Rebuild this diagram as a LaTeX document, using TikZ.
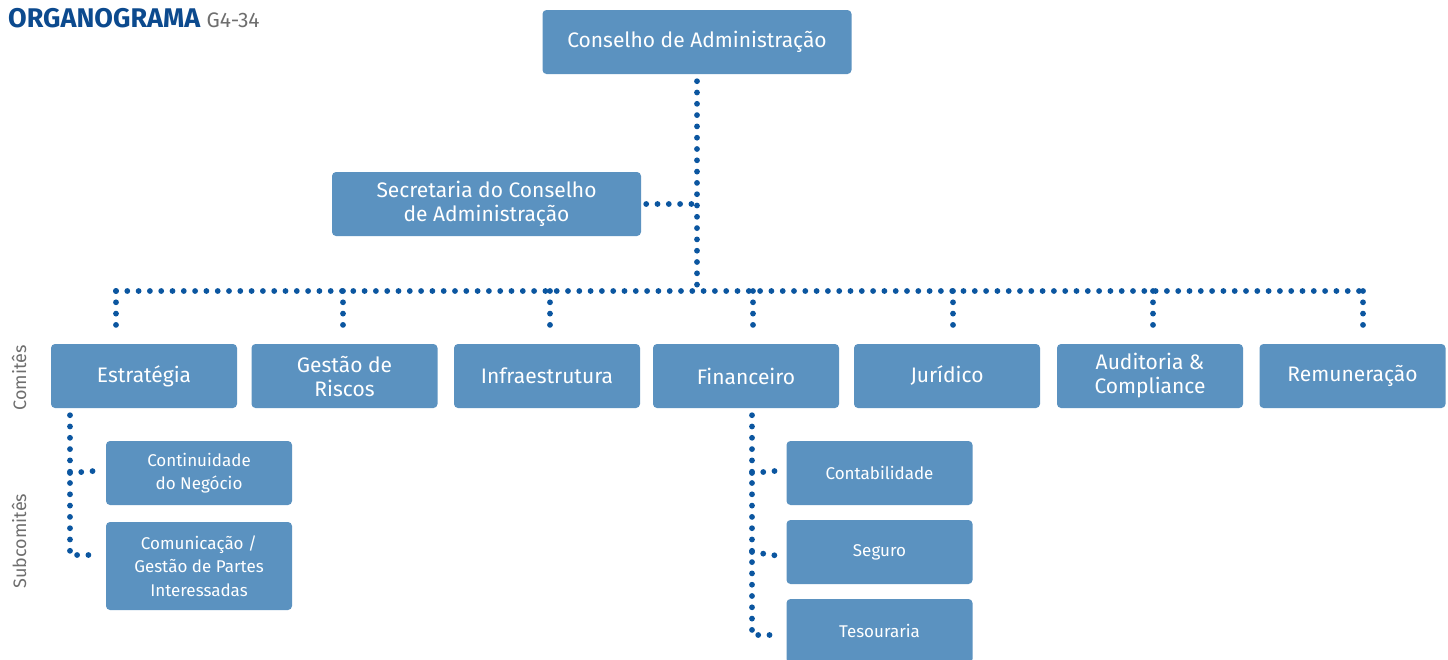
\documentclass[tikz,border=0pt]{standalone}
\usepackage{fontspec}
\setmainfont{Fira Sans}
\definecolor{boxblue}{RGB}{91,146,192}
\definecolor{dotblue}{RGB}{11,86,160}
\definecolor{titleblue}{RGB}{12,74,142}
\definecolor{labelgray}{RGB}{110,110,110}
\begin{document}
\begin{tikzpicture}[x=1pt,y=-1pt,line cap=round,
	orgbox/.style={fill=boxblue,rounded corners=4pt,minimum width=186pt,minimum height=64pt,
		text=white,align=center,inner sep=0pt,font=\fontsize{21}{24}\selectfont},
	subbox/.style={orgbox,font=\fontsize{17}{23.5}\selectfont},
	dotline/.style={dotblue,line width=5.8pt,dash pattern=on 0pt off 11.3pt},
	side/.style={labelgray,rotate=90,inner sep=0pt,font=\fontsize{18}{20}\selectfont}]
	
	\clip (0,0) rectangle (1448,659);
	
	% title
	\node[anchor=base west,inner sep=0pt,text=titleblue,font=\fontsize{27}{29}\selectfont\bfseries] (title) at (8,27) {ORGANOGRAMA};
	\node[anchor=base west,inner sep=0pt,text=labelgray,font=\fontsize{21}{23}\selectfont] (code) at ([xshift=6pt]title.base east) {G4-34};
	\node[side] (comites) at (19,378) {Comitês};
	\node[side] (subcomites) at (19,541) {Subcomitês};
	
	% conselho
	\node[orgbox,minimum width=309pt] (conselho) at (697,42) {Conselho de Administração};
	\node[orgbox,minimum width=309pt] (secretaria) at (486.5,204) {Secretaria do Conselho\\de Administração};
	
	% comites
	\node[orgbox] (estrategia) at (144,376) {Estratégia};
	\node[orgbox] (riscos) at (344.5,376) {Gestão de\\Riscos};
	\node[orgbox] (infra) at (547,376) {Infraestrutura};
	\node[orgbox] (financeiro) at (746,376) {Financeiro};
	\node[orgbox] (juridico) at (947,376) {Jurídico};
	\node[orgbox] (auditoria) at (1150,376) {Auditoria \&\\Compliance};
	\node[orgbox] (remuneracao) at (1352.5,376) {Remuneração};
	
	% subcomites
	\node[subbox] (continuidade) at (199,473) {Continuidade\\do Negócio};
	\node[subbox,minimum height=88pt] (comunicacao) at (199,566) {Comunicação /\\Gestão de Partes\\Interessadas};
	\node[subbox] (contabilidade) at (879.5,473) {Contabilidade};
	\node[subbox] (seguro) at (879.5,552) {Seguro};
	\node[subbox] (tesouraria) at (879.5,631) {Tesouraria};
	
	% ligacoes
	\coordinate (bus) at (697,291);
	\coordinate (b1) at (116,291);
	\coordinate (b2) at (343,291);
	\coordinate (b3) at (550,291);
	\coordinate (b4) at (753,291);
	\coordinate (b5) at (953,291);
	\coordinate (b6) at (1153,291);
	\coordinate (b7) at (1363,291);
	\draw[dotline,shorten <=7pt] (conselho.south) -- (bus);
	\draw[dotline,shorten <=5pt] (secretaria.east) -- (secretaria.east -| bus);
	\draw[dotline] (b1) -- (b7);
	\draw[dotline,shorten >=10pt] (b1) -- (b1 |- estrategia.north);
	\draw[dotline,shorten >=10pt] (b2) -- (b2 |- riscos.north);
	\draw[dotline,shorten >=10pt] (b3) -- (b3 |- infra.north);
	\draw[dotline,shorten >=10pt] (b4) -- (b4 |- financeiro.north);
	\draw[dotline,shorten >=10pt] (b5) -- (b5 |- juridico.north);
	\draw[dotline,shorten >=10pt] (b6) -- (b6 |- auditoria.north);
	\draw[dotline,shorten >=10pt] (b7) -- (b7 |- remuneracao.north);
	
	\draw[dotline,shorten >=7pt] ([xshift=-74pt,yshift=-7pt]estrategia.south) |- ([yshift=11pt]comunicacao.west);
	\draw[dotline,shorten >=7pt] ([xshift=-74pt]continuidade.west -| estrategia.south) -- ([yshift=3pt]continuidade.west);
	\draw[dotline,shorten >=7pt] ([xshift=6pt,yshift=-7pt]financeiro.south) |- ([yshift=-4pt]tesouraria.west);
	\draw[dotline,shorten >=7pt] ([xshift=6pt]contabilidade.west -| financeiro.south) -- ([yshift=3pt]contabilidade.west);
	\draw[dotline,shorten >=7pt] ([xshift=6pt]seguro.west -| financeiro.south) -- ([yshift=-5pt]seguro.west);
\end{tikzpicture}
\end{document}
